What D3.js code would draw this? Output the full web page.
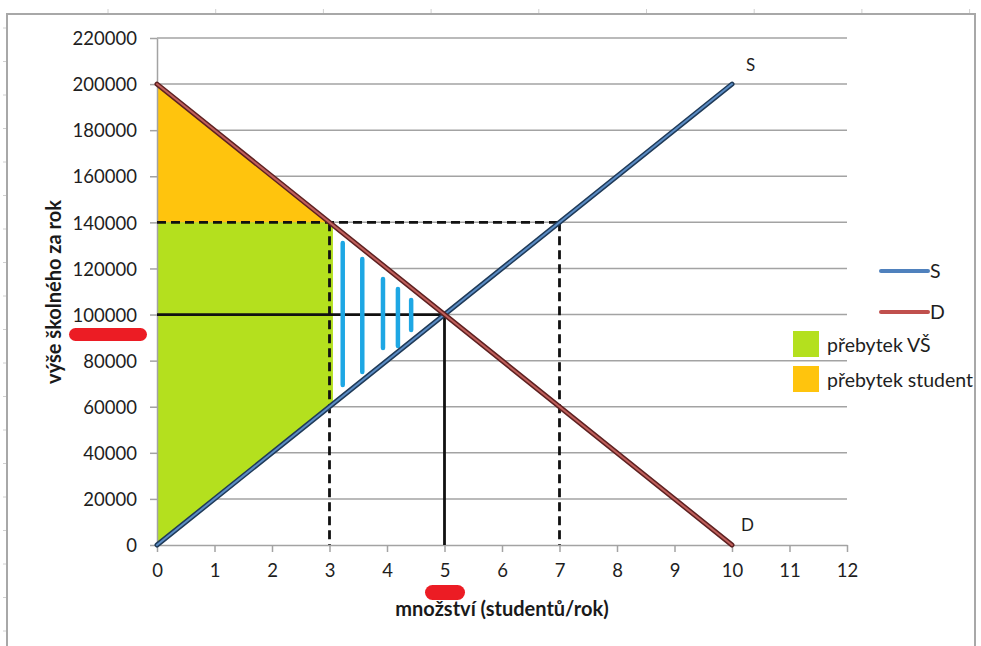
<!DOCTYPE html>
<html>
<head>
<meta charset="utf-8">
<script src="https://cdn.jsdelivr.net/npm/d3@7/dist/d3.min.js"></script>
<style>
  html, body { margin: 0; padding: 0; background: #fff; }
  svg { display: block; font-family: Lato, "Open Sans", sans-serif; }
</style>
</head>
<body>
<svg id="chart" width="981" height="646"></svg>
<script>
// Tick values
const xTickValues = [0, 1, 2, 3, 4, 5, 6, 7, 8, 9, 10, 11, 12];
const yTickValues = [0, 20000, 40000, 60000, 80000, 100000, 120000, 140000, 160000, 180000, 200000, 220000];

// Supply and demand curves (quantity, price)
const supplyPoints = [[0, 0], [10, 200000]];
const demandPoints = [[0, 200000], [10, 0]];

// Equilibrium and the regulated price
const equilibrium = { q: 5, p: 100000 };
const regulatedPrice = 140000;
const regulatedQuantities = [3, 7];

// Surplus areas
const studentSurplus = [[0, 200000], [3, 140000], [0, 140000]];
const schoolSurplus = [[0, 0], [0, 140000], [3, 140000], [5, 100000], [3, 60000]];
const lossTriangle = [[3, 140000], [5, 100000], [3, 60000]];

// Hand-drawn vertical strokes inside the loss triangle: [q, pTop, pBottom]
const hatchStrokes = [
  [3.23, 131000, 69400],
  [3.57, 124100, 75100],
  [3.93, 115400, 85500],
  [4.19, 111100, 86400],
  [4.42, 106300, 93300]
];

// Legend entries
const legendLines = [
  { label: "S", color: "#4f81bd" },
  { label: "D", color: "#c0504d" }
];
const legendAreas = [
  { label: "přebytek VŠ", color: "#b4e01e" },
  { label: "přebytek student", color: "#ffc40d" }
];

const svg = d3.select("#chart");

const x = d3.scaleLinear().domain([0, 12]).range([157, 847]);
const y = d3.scaleLinear().domain([0, 220000]).range([545, 38]);

const GRID = "#a3a3a3";

// outer frame with faint ruler marks
const frame = svg.append("g");
frame.append("path")
  .attr("d", "M7,646 L7,14 L975,14 L975,646")
  .attr("fill", "none").attr("stroke", "#a8a8a8").attr("stroke-width", 2);
d3.range(108, 981, 107.7).forEach(px => {
  frame.append("line").attr("x1", px).attr("x2", px).attr("y1", 9).attr("y2", 13)
    .attr("stroke", "#d0d0d0").attr("stroke-width", 1);
});
d3.range(28, 646, 33.5).forEach(py => {
  frame.append("line").attr("x1", 3).attr("x2", 6).attr("y1", py).attr("y2", py)
    .attr("stroke", "#d0d0d0").attr("stroke-width", 1);
});

// horizontal gridlines
svg.append("g").selectAll("line").data(yTickValues.filter(v => v > 0)).join("line")
  .attr("x1", x(0)).attr("x2", x(12))
  .attr("y1", d => y(d)).attr("y2", d => y(d))
  .attr("stroke", GRID).attr("stroke-width", 1.5);

// areas
const poly = pts => "M" + pts.map(p => x(p[0]) + "," + y(p[1])).join("L") + "Z";
svg.append("path").attr("d", poly(schoolSurplus)).attr("fill", legendAreas[0].color);
svg.append("path").attr("d", poly(studentSurplus)).attr("fill", legendAreas[1].color);

// loss triangle painted over in white, slightly inset
const cx = d3.mean(lossTriangle, p => x(p[0]));
const cy = d3.mean(lossTriangle, p => y(p[1]));
const inset = lossTriangle.map(p => {
  const px = x(p[0]), py = y(p[1]);
  return [cx + (px - cx) * 0.95 + 1.5, cy + (py - cy) * 0.95];
});
svg.append("path").attr("d", "M" + inset.join("L") + "Z").attr("fill", "#fff");

// axes
const xAxis = svg.append("g").attr("transform", `translate(0,${y(0)})`)
  .call(d3.axisBottom(x).tickValues(xTickValues).tickSize(7).tickSizeOuter(0).tickPadding(12).tickFormat(d3.format("d")));
const yAxis = svg.append("g").attr("transform", `translate(${x(0)},0)`)
  .call(d3.axisLeft(y).tickValues(yTickValues).tickSize(7).tickSizeOuter(0).tickPadding(13).tickFormat(d3.format("d")));
[xAxis, yAxis].forEach(g => {
  g.select(".domain").attr("stroke", GRID).attr("stroke-width", 1.5);
  g.selectAll(".tick line").attr("stroke", GRID).attr("stroke-width", 1.5);
  g.selectAll(".tick text").attr("fill", "#1e1e1e").style("font-size", "18.5px")
    .style("font-family", "Lato, 'Open Sans', sans-serif");
});
xAxis.selectAll(".tick text").attr("dy", "0.71em");
yAxis.selectAll(".tick text").attr("dy", "0.36em");

// reference lines at the regulated price
const dash = "9,5";
const ref = svg.append("g").attr("stroke", "#111").attr("stroke-width", 2.8).attr("fill", "none");
ref.append("line").attr("x1", x(0)).attr("x2", x(regulatedQuantities[1]))
  .attr("y1", y(regulatedPrice)).attr("y2", y(regulatedPrice)).attr("stroke-dasharray", dash);
regulatedQuantities.forEach(q => {
  ref.append("line").attr("x1", x(q)).attr("x2", x(q))
    .attr("y1", y(regulatedPrice)).attr("y2", y(0)).attr("stroke-dasharray", dash);
});
// equilibrium lines
ref.append("path")
  .attr("d", `M${x(0)},${y(equilibrium.p)} L${x(equilibrium.q)},${y(equilibrium.p)} L${x(equilibrium.q)},${y(0)}`);

// hatch strokes
svg.append("g").selectAll("line").data(hatchStrokes).join("line")
  .attr("x1", d => x(d[0])).attr("x2", d => x(d[0]))
  .attr("y1", d => y(d[1])).attr("y2", d => y(d[2]))
  .attr("stroke", "#1ea7e4").attr("stroke-width", 4.5).attr("stroke-linecap", "round");

// supply and demand lines
const line = d3.line().x(d => x(d[0])).y(d => y(d[1]));
const drawCurve = (pts, outer, inner) => {
  svg.append("path").attr("d", line(pts)).attr("fill", "none")
    .attr("stroke", outer).attr("stroke-width", 5).attr("stroke-linecap", "round");
  svg.append("path").attr("d", line(pts)).attr("fill", "none")
    .attr("stroke", inner).attr("stroke-width", 2).attr("stroke-linecap", "round");
};
drawCurve(supplyPoints, "#1f3a58", "#5b8cc4");
drawCurve(demandPoints, "#5e2121", "#c0605c");

// curve labels
svg.append("text").attr("x", x(10) + 14).attr("y", y(200000) - 13)
  .attr("font-size", 17).attr("fill", "#1e1e1e").text("S");
svg.append("text").attr("x", x(10) + 9).attr("y", y(0) - 14)
  .attr("font-size", 17).attr("fill", "#1e1e1e").text("D");

// axis titles
svg.append("text").attr("x", 502).attr("y", 616).attr("text-anchor", "middle")
  .attr("font-size", 20).attr("font-weight", "bold").attr("fill", "#1a1a1a")
  .text("množství (studentů/rok)");
svg.append("text").attr("transform", "translate(61,292) rotate(-90)").attr("text-anchor", "middle")
  .attr("font-size", 20).attr("font-weight", "bold").attr("fill", "#1a1a1a")
  .text("výše školného za rok");

// legend
const leg = svg.append("g");
legendLines.forEach((d, i) => {
  const ly = 271 + i * 41;
  leg.append("line").attr("x1", 881).attr("x2", 928).attr("y1", ly).attr("y2", ly)
    .attr("stroke", d.color).attr("stroke-width", 4).attr("stroke-linecap", "round");
  leg.append("text").attr("x", 930).attr("y", ly + 7).attr("font-size", 19.5)
    .attr("fill", "#1e1e1e").text(d.label);
});
legendAreas.forEach((d, i) => {
  const ty = 331 + i * 35;
  leg.append("rect").attr("x", 793).attr("y", ty).attr("width", 26).attr("height", 26)
    .attr("fill", d.color);
  leg.append("text").attr("x", 827).attr("y", ty + 21).attr("font-size", 19.5)
    .attr("fill", "#1e1e1e").text(d.label);
});

// red marker scribbles
const marks = svg.append("g").attr("fill", "#ec1c24");
marks.append("rect").attr("x", 69).attr("y", 328).attr("width", 78).attr("height", 13).attr("rx", 6.5);
marks.append("rect").attr("x", 425).attr("y", 585).attr("width", 40).attr("height", 15).attr("rx", 7.5);
</script>
</body>
</html>
